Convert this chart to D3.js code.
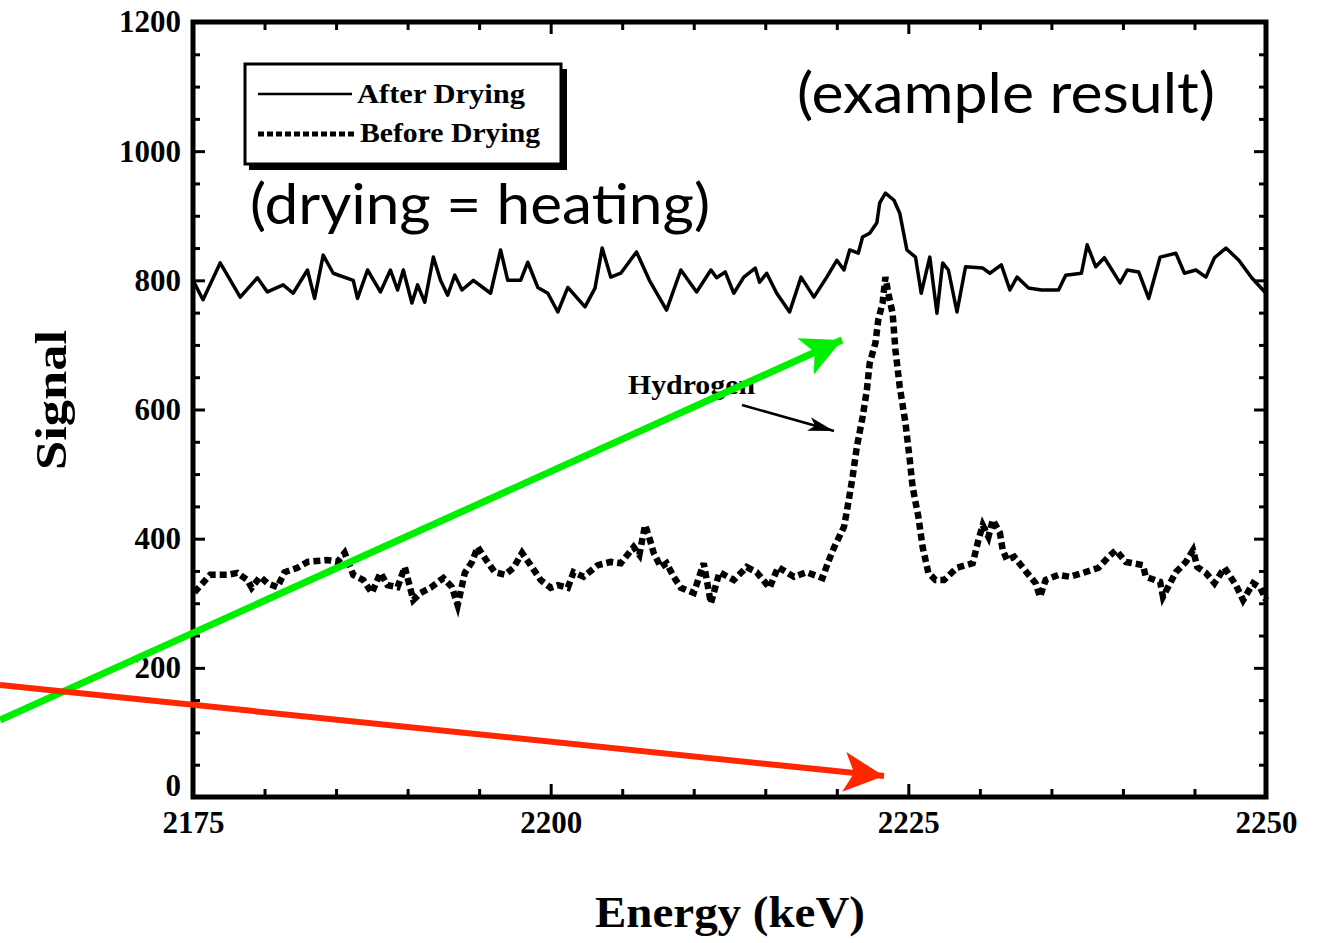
<!DOCTYPE html>
<html lang="en">
<head>
  <meta charset="UTF-8">
  <title>Hydrogen signal before and after drying</title>
  <script src="https://d3js.org/d3.v7.min.js"></script>
  <style>
    body { margin: 0; background: #fff; }
    text { fill: #000; }
    .serif { font-family: "Liberation Serif", "DejaVu Serif", serif; }
    .note { font-family: Lato, "Open Sans", sans-serif; }
  </style>
</head>
<body>
<svg width="1334" height="943"></svg>
<script>
  const svg = d3.select("svg");

  // After drying (solid line)
  const energyAfter = [2175.0, 2175.7, 2176.9, 2178.3, 2179.5, 2180.2, 2181.3, 2182.0, 2183.0, 2183.5,
    2184.1, 2184.8, 2186.2, 2186.5, 2187.2, 2188.1, 2188.8, 2189.3, 2189.7, 2190.3,
    2190.7, 2191.2, 2191.8, 2192.3, 2192.8, 2193.3, 2193.8, 2194.6, 2195.8, 2196.5,
    2197.0, 2197.9, 2198.4, 2199.1, 2199.8, 2200.5, 2201.2, 2202.4, 2203.1, 2203.6,
    2204.2, 2204.9, 2206.0, 2206.9, 2208.1, 2209.1, 2210.2, 2211.2, 2211.6, 2212.2,
    2212.8, 2213.5, 2214.3, 2214.6, 2215.1, 2215.8, 2216.7, 2217.5, 2218.4, 2219.3,
    2220.0, 2220.5, 2220.9, 2221.5, 2221.8, 2222.3, 2222.8, 2223.0, 2223.4, 2224.0,
    2224.4, 2224.9, 2225.5, 2225.9, 2226.5, 2227.0, 2227.4, 2227.8, 2228.4, 2229.0,
    2230.2, 2230.7, 2231.5, 2232.1, 2232.6, 2233.4, 2234.3, 2235.5, 2236.0, 2237.1,
    2237.5, 2238.1, 2238.7, 2239.8, 2240.3, 2241.1, 2241.8, 2242.6, 2243.7, 2244.3,
    2245.1, 2245.8, 2246.4, 2247.2, 2248.1, 2249.0, 2250.0];
  const signalAfter = [800, 770, 827, 774, 804, 782, 793, 780, 816, 772,
    839, 811, 800, 772, 816, 782, 816, 785, 816, 765,
    793, 766, 836, 800, 777, 808, 785, 800, 780, 847,
    800, 800, 828, 789, 780, 751, 789, 759, 788, 850,
    805, 811, 844, 800, 754, 816, 782, 816, 804, 813,
    780, 805, 819, 797, 811, 780, 751, 805, 774, 805,
    831, 816, 847, 842, 867, 873, 889, 920, 935, 924,
    904, 847, 836, 780, 836, 749, 827, 816, 751, 821,
    819, 811, 824, 785, 805, 788, 785, 785, 808, 811,
    855, 821, 835, 796, 816, 813, 772, 836, 842, 811,
    816, 805, 835, 850, 831, 804, 780];

  // Before drying (dotted line)
  const energyBefore = [2175.1, 2176.2, 2177.4, 2178.1, 2178.8, 2179.1, 2179.7, 2180.2, 2180.9, 2181.4,
    2182.3, 2183.0, 2184.4, 2185.1, 2185.6, 2186.2, 2186.9, 2187.5, 2188.1, 2188.6,
    2189.3, 2189.8, 2190.4, 2190.9, 2191.6, 2192.5, 2193.1, 2193.5, 2194.0, 2194.5,
    2194.9, 2195.4, 2196.1, 2196.8, 2197.4, 2198.0, 2198.6, 2199.3, 2200.0, 2200.5,
    2201.2, 2201.6, 2202.3, 2203.3, 2204.2, 2204.9, 2205.8, 2206.2, 2206.6, 2206.9,
    2207.2, 2207.7, 2208.1, 2208.6, 2209.1, 2210.0, 2210.7, 2211.2, 2211.8, 2212.8,
    2213.7, 2214.4, 2215.3, 2215.9, 2217.0, 2217.9, 2219.0, 2219.4, 2219.8, 2220.5,
    2220.8, 2221.1, 2221.4, 2221.8, 2222.1, 2222.3, 2222.7, 2222.9, 2223.2, 2223.4,
    2223.6, 2223.9, 2224.1, 2224.4, 2224.8, 2225.1, 2225.3, 2225.7, 2226.0, 2226.4,
    2226.9, 2227.5, 2228.4, 2229.5, 2229.9, 2230.2, 2230.6, 2230.9, 2231.4, 2231.6,
    2231.9, 2232.4, 2233.3, 2233.9, 2234.2, 2234.6, 2235.5, 2236.3, 2237.2, 2238.3,
    2239.0, 2239.5, 2240.2, 2241.4, 2241.6, 2242.6, 2242.8, 2243.7, 2244.4, 2244.9,
    2245.2, 2245.8, 2246.4, 2247.1, 2247.9, 2248.4, 2249.1, 2249.6, 2250.0];
  const signalBefore = [317, 344, 344, 347, 336, 324, 341, 331, 325, 348,
    355, 364, 367, 364, 378, 344, 336, 316, 347, 328,
    325, 356, 305, 316, 324, 339, 325, 297, 347, 364,
    387, 370, 348, 344, 355, 378, 359, 336, 324, 328,
    324, 348, 341, 359, 364, 362, 387, 375, 421, 401,
    378, 356, 362, 341, 324, 316, 362, 300, 348, 336,
    356, 348, 324, 356, 341, 348, 339, 364, 386, 418,
    455, 495, 542, 588, 630, 672, 703, 739, 765, 805,
    780, 749, 692, 635, 579, 522, 480, 434, 387, 347,
    336, 336, 355, 362, 398, 421, 403, 429, 409, 382,
    367, 372, 347, 331, 310, 336, 344, 341, 347, 355,
    372, 382, 364, 359, 341, 333, 310, 348, 364, 382,
    356, 347, 331, 355, 328, 305, 331, 324, 305];

  const yMajor = [0, 200, 400, 600, 800, 1000, 1200];
  const xMajor = [2175, 2200, 2225, 2250];

  const x = d3.scaleLinear().domain([2175, 2250]).range([193, 1266]);
  const y = d3.scaleLinear().domain([0, 1200]).range([797, 22]);

  // minor ticks: every 50 on y, every 5 keV on x
  const yMinor = d3.range(0, 1201, 50).filter(v => v % 200 !== 0);
  const xMinor = d3.range(2175, 2251, 5).filter(v => v % 25 !== 0);

  const axes = svg.append("g").attr("class", "serif");

  function styleAxis(g) {
    g.select(".domain").remove();
    g.selectAll(".tick line").attr("stroke", "#000").attr("stroke-width", 3);
    g.selectAll(".tick text")
      .attr("font-size", 31)
      .attr("font-weight", "bold")
      .attr("font-family", "Liberation Serif, serif");
  }

  const yLabels = axes.append("g").attr("transform", "translate(193,0)")
    .call(d3.axisLeft(y).tickValues(yMajor).tickSize(-12).tickPadding(12).tickFormat(d3.format("d")))
    .call(styleAxis);
  // the zero label sits a little above its tick, clear of 2175
  yLabels.selectAll(".tick text").filter(d => d === 0).attr("dy", "-0.05em");
  axes.append("g").attr("transform", "translate(193,0)")
    .call(d3.axisLeft(y).tickValues(yMinor).tickSize(-7).tickFormat(""))
    .call(styleAxis);
  axes.append("g").attr("transform", "translate(1266,0)")
    .call(d3.axisRight(y).tickValues(yMajor).tickSize(-12).tickFormat(""))
    .call(styleAxis);
  axes.append("g").attr("transform", "translate(1266,0)")
    .call(d3.axisRight(y).tickValues(yMinor).tickSize(-7).tickFormat(""))
    .call(styleAxis);

  axes.append("g").attr("transform", "translate(0,797)")
    .call(d3.axisBottom(x).tickValues(xMajor).tickSize(-13).tickPadding(14).tickFormat(d3.format("d")))
    .call(styleAxis);
  axes.append("g").attr("transform", "translate(0,797)")
    .call(d3.axisBottom(x).tickValues(xMinor).tickSize(-8).tickFormat(""))
    .call(styleAxis);
  axes.append("g").attr("transform", "translate(0,22)")
    .call(d3.axisTop(x).tickValues(xMajor).tickSize(-12).tickFormat(""))
    .call(styleAxis);
  axes.append("g").attr("transform", "translate(0,22)")
    .call(d3.axisTop(x).tickValues(xMinor).tickSize(-8).tickFormat(""))
    .call(styleAxis);

  // frame
  svg.append("rect")
    .attr("x", x(2175)).attr("y", y(1200))
    .attr("width", x(2250) - x(2175)).attr("height", y(0) - y(1200))
    .attr("fill", "none").attr("stroke", "#000").attr("stroke-width", 5);

  // axis titles
  svg.append("text").attr("class", "serif")
    .attr("transform", "translate(66,400) rotate(-90)")
    .attr("text-anchor", "middle")
    .attr("font-size", 44).attr("font-weight", "bold")
    .attr("textLength", 140).attr("lengthAdjust", "spacingAndGlyphs")
    .text("Signal");
  svg.append("text").attr("class", "serif")
    .attr("x", 730).attr("y", 927)
    .attr("text-anchor", "middle")
    .attr("font-size", 44).attr("font-weight", "bold")
    .attr("textLength", 270).attr("lengthAdjust", "spacingAndGlyphs")
    .text("Energy (keV)");

  // data lines
  const line = d3.line().x(d => x(d[0])).y(d => y(d[1]));

  svg.append("path")
    .datum(d3.zip(energyAfter, signalAfter))
    .attr("fill", "none").attr("stroke", "#000")
    .attr("stroke-width", 3.5).attr("stroke-linejoin", "round")
    .attr("d", line);

  svg.append("path")
    .datum(d3.zip(energyBefore, signalBefore))
    .attr("fill", "none").attr("stroke", "#000")
    .attr("stroke-width", 6.5).attr("stroke-dasharray", "7 4")
    .attr("d", line);

  // legend box with drop shadow
  const legend = svg.append("g").attr("class", "serif");
  legend.append("rect").attr("x", 249).attr("y", 69).attr("width", 318).attr("height", 101).attr("fill", "#000");
  legend.append("rect").attr("x", 245).attr("y", 64).attr("width", 316).attr("height", 100)
    .attr("fill", "#fff").attr("stroke", "#000").attr("stroke-width", 3);
  legend.append("line").attr("x1", 258).attr("x2", 352).attr("y1", 94).attr("y2", 94)
    .attr("stroke", "#000").attr("stroke-width", 2.5);
  legend.append("line").attr("x1", 258).attr("x2", 356).attr("y1", 134).attr("y2", 134)
    .attr("stroke", "#000").attr("stroke-width", 5).attr("stroke-dasharray", "6 3");
  legend.append("text").attr("x", 357).attr("y", 103)
    .attr("font-size", 28).attr("font-weight", "bold")
    .attr("textLength", 168).attr("lengthAdjust", "spacingAndGlyphs")
    .text("After Drying");
  legend.append("text").attr("x", 360).attr("y", 142)
    .attr("font-size", 28).attr("font-weight", "bold")
    .attr("textLength", 180).attr("lengthAdjust", "spacingAndGlyphs")
    .text("Before Drying");

  // hydrogen annotation
  const defs = svg.append("defs");
  function arrowHead(id, color, w, h) {
    defs.append("marker").attr("id", id)
      .attr("markerUnits", "userSpaceOnUse")
      .attr("viewBox", `0 0 ${w} ${h}`)
      .attr("refX", w).attr("refY", h / 2)
      .attr("markerWidth", w).attr("markerHeight", h)
      .attr("orient", "auto")
      .append("path").attr("d", `M0,0L${w},${h / 2}L0,${h}L${w * 0.25},${h / 2}Z`).attr("fill", color);
  }
  arrowHead("blackHead", "#000", 26, 14);
  arrowHead("greenHead", "#00ee00", 40, 40);
  arrowHead("redHead", "#ff2600", 40, 40);

  svg.append("text").attr("class", "serif")
    .attr("x", 628).attr("y", 394)
    .attr("font-size", 27).attr("font-weight", "bold")
    .attr("textLength", 127).attr("lengthAdjust", "spacingAndGlyphs")
    .text("Hydrogen");
  svg.append("line")
    .attr("x1", 742).attr("y1", 405).attr("x2", 834).attr("y2", 431)
    .attr("stroke", "#000").attr("stroke-width", 2.5)
    .attr("marker-end", "url(#blackHead)");

  // slide overlays
  svg.append("text").attr("class", "note")
    .attr("x", 797).attr("y", 113)
    .attr("font-size", 56)
    .attr("textLength", 418).attr("lengthAdjust", "spacingAndGlyphs")
    .text("(example result)");
  svg.append("text").attr("class", "note")
    .attr("x", 250).attr("y", 224)
    .attr("font-size", 56)
    .attr("textLength", 460).attr("lengthAdjust", "spacingAndGlyphs")
    .text("(drying = heating)");

  svg.append("line")
    .attr("x1", 0).attr("y1", 720).attr("x2", 842).attr("y2", 340)
    .attr("stroke", "#00ee00").attr("stroke-width", 7)
    .attr("marker-end", "url(#greenHead)");
  svg.append("line")
    .attr("x1", 0).attr("y1", 685).attr("x2", 884).attr("y2", 776)
    .attr("stroke", "#ff2600").attr("stroke-width", 6)
    .attr("marker-end", "url(#redHead)");
</script>
</body>
</html>
